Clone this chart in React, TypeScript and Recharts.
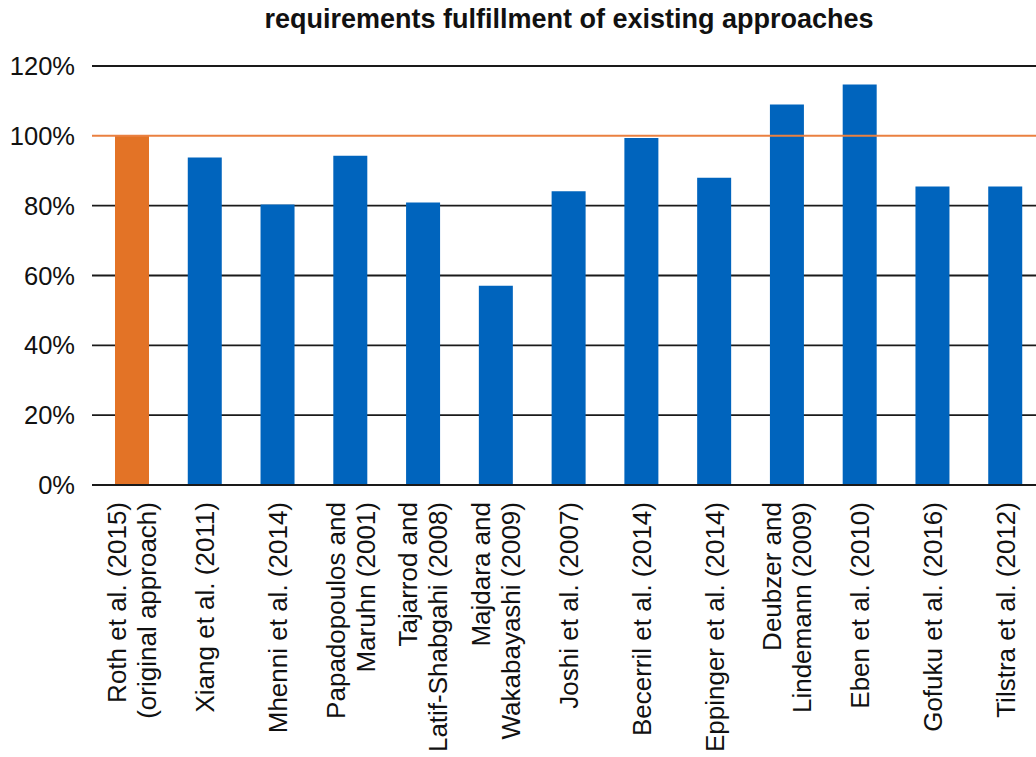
import React from 'react';
import { BarChart, Bar, XAxis, YAxis, CartesianGrid, ReferenceLine, Cell } from 'recharts';

const approaches = [
  'Roth et al. (2015)\n(original approach)',
  'Xiang et al. (2011)',
  'Mhenni et al. (2014)',
  'Papadopoulos and\nMaruhn (2001)',
  'Tajarrod and\nLatif-Shabgahi (2008)',
  'Majdara and\nWakabayashi (2009)',
  'Joshi et al. (2007)',
  'Becerril et al. (2014)',
  'Eppinger et al. (2014)',
  'Deubzer and\nLindemann (2009)',
  'Eben et al. (2010)',
  'Gofuku et al. (2016)',
  'Tilstra et al. (2012)',
];

const fulfillment = [1.0, 0.938, 0.803, 0.943, 0.809, 0.571, 0.841, 0.994, 0.88, 1.09, 1.147, 0.855, 0.855];

const yTicks = [0, 0.2, 0.4, 0.6, 0.8, 1.0, 1.2];
// 100% gets the orange reference line instead of a black grid line
const gridValues = [0, 0.2, 0.4, 0.6, 0.8, 1.2];

const data = approaches.map((name, i) => ({ name, value: fulfillment[i] }));

const FONT = '"Liberation Sans", Arial, Helvetica, sans-serif';
const ORANGE = '#E37326';
const BLUE = '#0064BD';

// vertical category labels, possibly two lines, text ends just under the axis
const RotatedTick: React.FC<any> = ({ x, y, payload }) => {
  const lines: string[] = String(payload.value).split('\n');
  const lh = 30;
  const first = -((lines.length - 1) / 2) * lh + 9;
  return (
    <g transform={`translate(${x},${y + 9})`}>
      <text transform="rotate(-90)" textAnchor="end" fontSize={26} fill="#111" fontFamily={FONT}>
        {lines.map((l, i) => (
          <tspan key={i} x={0} dy={i === 0 ? first : lh}>{l}</tspan>
        ))}
      </text>
    </g>
  );
};

export default function App() {
  return (
    <div style={{ position: 'fixed', left: 0, top: 0, width: 1036, height: 757, overflow: 'hidden', background: '#fff', fontFamily: FONT }}>
      <div style={{ position: 'absolute', left: 0, width: 1138, top: 4, textAlign: 'center', fontSize: 27, fontWeight: 'bold', color: '#111' }}>
        requirements fulfillment of existing approaches
      </div>
      <BarChart width={1042} height={757} data={data} margin={{ top: 66, right: 0, left: 0, bottom: 0 }}>
        <CartesianGrid vertical={false} horizontalValues={gridValues} stroke="#1a1a1a" strokeWidth={1.8} />
        <ReferenceLine y={1} stroke="#EA8040" strokeWidth={2} />
        <XAxis
          dataKey="name"
          interval={0}
          height={272}
          tickLine={false}
          axisLine={{ stroke: '#1a1a1a', strokeWidth: 1.8 }}
          padding={{ left: 4, right: 0 }}
          tick={<RotatedTick />}
        />
        <YAxis
          width={92}
          domain={[0, 1.2]}
          ticks={yTicks}
          axisLine={false}
          tickLine={false}
          tickMargin={11}
          tick={{ fontSize: 25.5, fill: '#111', fontFamily: FONT }}
          tickFormatter={(v: number) => `${Math.round(v * 100)}%`}
        />
        <Bar dataKey="value" barSize={34} isAnimationActive={false}>
          {data.map((d, i) => (
            <Cell key={d.name} fill={i === 0 ? ORANGE : BLUE} />
          ))}
        </Bar>
      </BarChart>
    </div>
  );
}
